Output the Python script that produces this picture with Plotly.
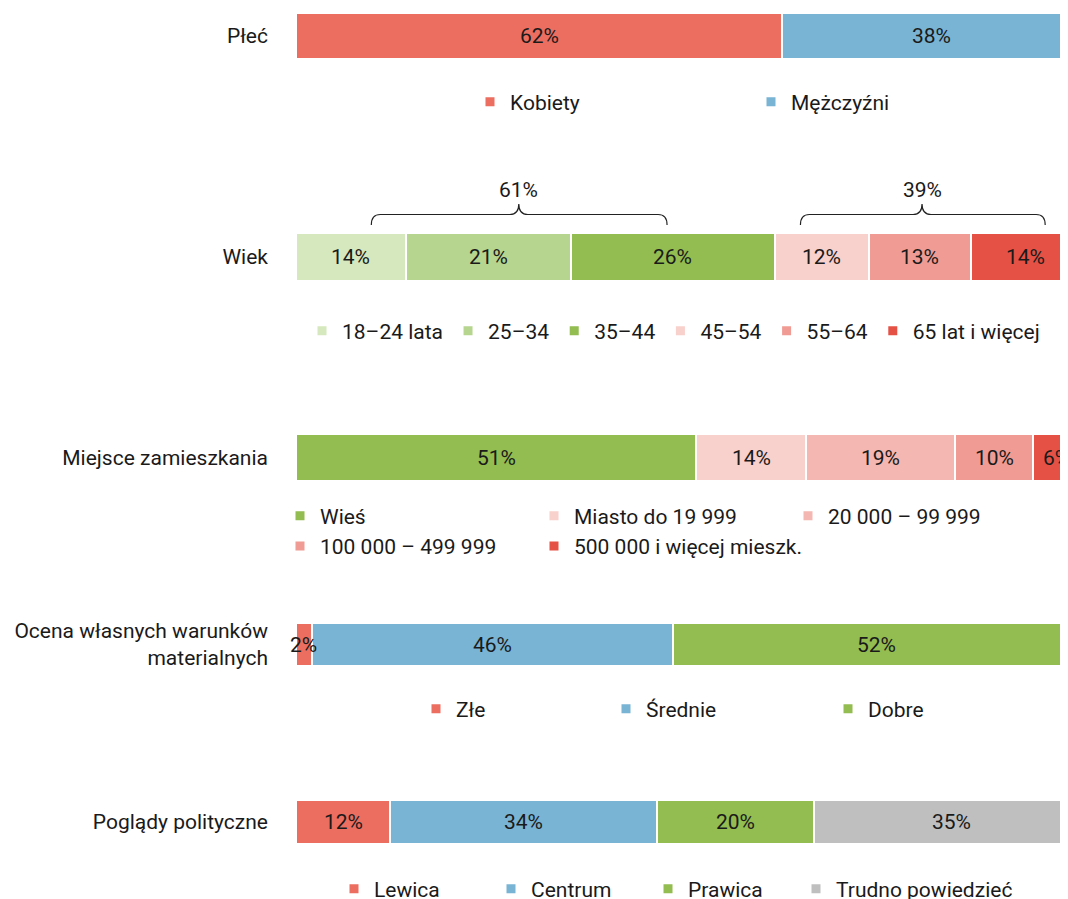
import plotly.graph_objects as go

# ---------------- data ----------------
row_labels = ["Płeć", "Wiek", "Miejsce zamieszkania",
              "Ocena własnych warunków<br>materialnych", "Poglądy polityczne"]

plec_labels = ["Kobiety", "Mężczyźni"]
plec_values = [62, 38]
plec_colors = ["#EC6E61", "#79B4D4"]

wiek_labels = ["18–24 lata", "25–34", "35–44", "45–54", "55–64", "65 lat i więcej"]
wiek_values = [14, 21, 26, 12, 13, 14]
wiek_colors = ["#D6E8BE", "#B6D58F", "#93BD51", "#F8D0CC", "#F09C94", "#E55245"]

miejsce_labels = ["Wieś", "Miasto do 19 999", "20 000 – 99 999",
                  "100 000 – 499 999", "500 000 i więcej mieszk."]
miejsce_values = [51, 14, 19, 10, 6]
miejsce_colors = ["#93BD51", "#F8D0CC", "#F4B7B1", "#F09C94", "#E55245"]

ocena_labels = ["Złe", "Średnie", "Dobre"]
ocena_values = [2, 46, 52]
ocena_colors = ["#EC6E61", "#79B4D4", "#93BD51"]

poglady_labels = ["Lewica", "Centrum", "Prawica", "Trudno powiedzieć"]
poglady_values = [12, 34, 20, 35]
poglady_colors = ["#EC6E61", "#79B4D4", "#93BD51", "#BFBFBF"]

# age groups summarised with braces (indices into wiek_values)
age_groups = [[0, 1, 2], [3, 4, 5]]

# ---------------- layout constants ----------------
PAGE_W, PAGE_H = 1068, 899
OFF = 8                        # page offset of the figure (body margin)
W, H = PAGE_W - OFF, PAGE_H - OFF
BAR_LEFT = 296                 # page x where bars start
ML = BAR_LEFT - OFF
PX_PER_UNIT = 7.845
X_MAX = (W - ML) / PX_PER_UNIT
FONT = "Roboto"
FS = 21
TXT = "#1a1a1a"

ROW_Y = [36, 257, 457.5, 644.5, 822]   # row centres, page pixels (y axis in page pixels)
ROW_H = [44, 46, 45, 41, 42]

def px2x(px):           # page px -> legend paper x
    return (px - OFF - ML) / (W - ML)

def py2y(py):           # page px -> legend paper y
    return 1 - (py - OFF) / H

groups = [
    (plec_labels, plec_values, plec_colors),
    (wiek_labels, wiek_values, wiek_colors),
    (miejsce_labels, miejsce_values, miejsce_colors),
    (ocena_labels, ocena_values, ocena_colors),
    (poglady_labels, poglady_values, poglady_colors),
]

# legend blocks per group: (item indices, first marker page px, row centre page px, entry width, anchor)
legend_blocks = [
    [([0, 1], 494, 102, 236, "left")],
    [([0, 1, 2, 3, 4, 5], 326, 331, 0, "left")],
    [([0, 1, 2, 3, 4], 304, 531, 209, "right")],
    [([0, 1], 440, 709, 145, "left"), ([2], 852, 709, 0, "left")],
    [([0, 1, 2], 358, 889, 112, "left"), ([3], 820, 889, 0, "left")],
]

fig = go.Figure()
layout_legends = {}
legend_count = 0

for gi, (labels, values, colors) in enumerate(groups):
    start = 0
    for lab, val, col in zip(labels, values, colors):
        fig.add_trace(go.Bar(
            x=[val], y=[ROW_Y[gi]], orientation="h",
            width=ROW_H[gi] + 2,
            marker=dict(color=col, line=dict(color="white", width=2)),
            textposition="none",
            showlegend=False, hoverinfo="skip", name=lab,
        ))
        fig.add_annotation(x=start + val / 2, y=ROW_Y[gi], xref="x", yref="y",
                           text=f"{val}%", showarrow=False,
                           font=dict(family=FONT, size=FS, color=TXT))
        start += val
    for idxs, mx, my, ew, anc in legend_blocks[gi]:
        legend_count += 1
        lid = "legend" if legend_count == 1 else f"legend{legend_count}"
        for i in idxs:
            fig.add_trace(go.Scatter(
                x=[None], y=[None], mode="markers",
                marker=dict(symbol="square", size=9, color=colors[i]),
                name=labels[i], legend=lid, showlegend=True,
            ))
        left_px = mx - 4 - 20
        if anc == "left":
            lx = px2x(left_px)
        else:
            lx = px2x(left_px + 3 * (ew + 45))   # three equal columns
        layout_legends[lid] = dict(
            orientation="h", x=lx, xanchor=anc, y=py2y(my), yanchor="middle",
            font=dict(family=FONT, size=FS, color=TXT), bgcolor="rgba(0,0,0,0)",
            entrywidth=ew, entrywidthmode="pixels", itemclick=False, itemdoubleclick=False,
            traceorder="normal", tracegroupgap=0,
        )

# braces over the age groups
BRACE_SPANS = [(9.6, 47.3), (64.3, 95.5)]
BRACE_CENTRES = [28.4, 79.8]
Y_TIP, Y_LINE, Y_PEAK, Y_LABEL = 225, 214.5, 204, 190
rx = 9 / PX_PER_UNIT
for grp, (x0, x1), xc in zip(age_groups, BRACE_SPANS, BRACE_CENTRES):
    path = (f"M {x0},{Y_TIP} Q {x0},{Y_LINE} {x0+rx},{Y_LINE} "
            f"L {xc-rx},{Y_LINE} Q {xc},{Y_LINE} {xc},{Y_PEAK} "
            f"Q {xc},{Y_LINE} {xc+rx},{Y_LINE} "
            f"L {x1-rx},{Y_LINE} Q {x1},{Y_LINE} {x1},{Y_TIP}")
    fig.add_shape(type="path", path=path, xref="x", yref="y",
                  line=dict(color="#222222", width=1.2))
    total = sum(wiek_values[i] for i in grp)
    fig.add_annotation(x=xc, y=Y_LABEL, xref="x", yref="y", text=f"{total}%",
                       showarrow=False, font=dict(family=FONT, size=FS, color=TXT))

fig.update_layout(
    width=W, height=H,
    margin=dict(l=ML, r=0, t=0, b=0, autoexpand=False),
    barmode="stack", bargap=0,
    plot_bgcolor="white", paper_bgcolor="white",
    font=dict(family=FONT, size=FS, color=TXT),
    xaxis=dict(range=[0, X_MAX], visible=False, fixedrange=True),
    yaxis=dict(range=[H + OFF, OFF], tickvals=ROW_Y, ticktext=row_labels, ticks="",
               showgrid=False, zeroline=False, showline=False,
               ticklabelstandoff=27, automargin=False, fixedrange=True,
               tickfont=dict(family=FONT, size=FS, color=TXT)),
    **layout_legends,
)

fig.write_html("out.html")
